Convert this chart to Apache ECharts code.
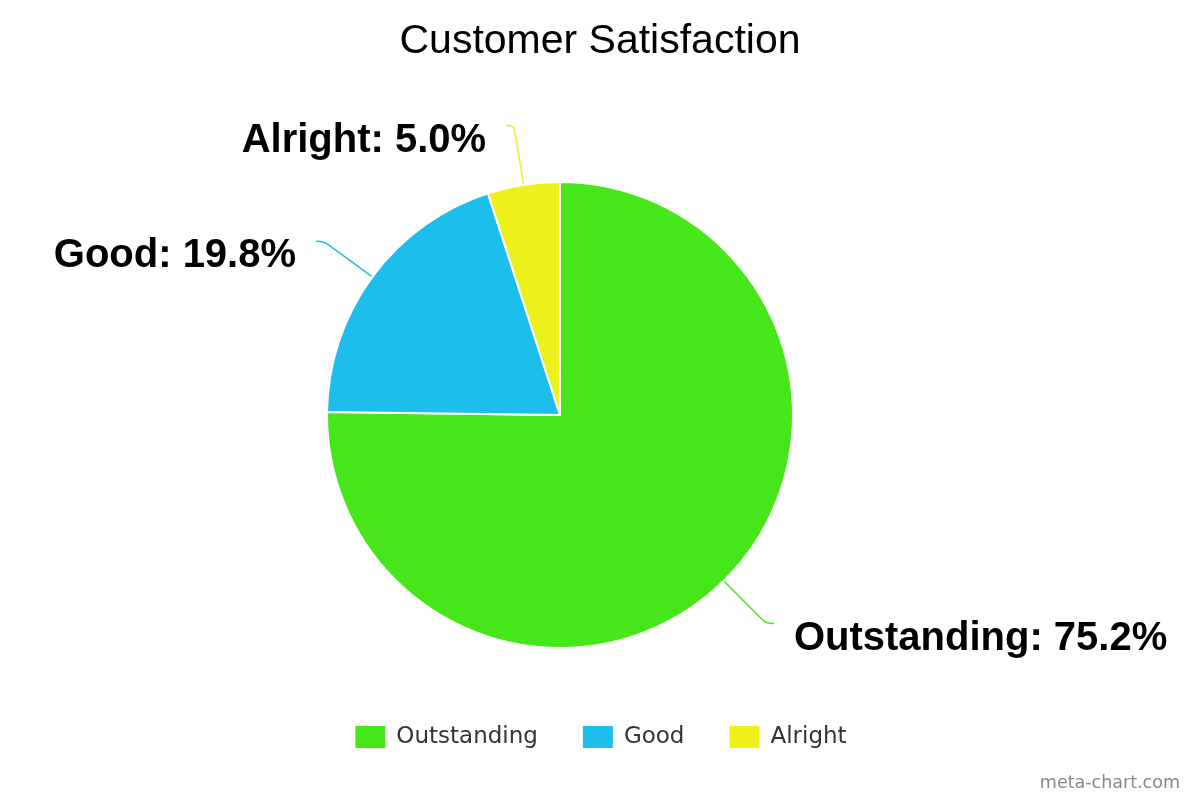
<!DOCTYPE html>
<html>
<head>
<meta charset="UTF-8">
<title>Customer Satisfaction</title>
<script src="https://cdn.jsdelivr.net/npm/echarts@6/dist/echarts.min.js"></script>
<style>
  html, body { margin: 0; padding: 0; background: #fff; }
  #chart { width: 1200px; height: 800px; }
</style>
</head>
<body>
<div id="chart"></div>
<script>
// data
var categories = ['Outstanding', 'Good', 'Alright'];
var values = [75.2, 19.8, 5.0];
var colors = ['#46e61a', '#1ebeec', '#eef01c'];

var pieData = [];
for (var i = 0; i < categories.length; i++) {
  pieData.push({
    name: categories[i],
    value: values[i],
    itemStyle: { color: colors[i] },
    labelLine: { lineStyle: { color: colors[i] } }
  });
}

var myChart = echarts.init(document.getElementById('chart'));

myChart.setOption({
  backgroundColor: '#fff',
  title: {
    text: 'Customer Satisfaction',
    left: 'center',
    top: 16,
    textStyle: { fontFamily: 'Liberation Sans', fontWeight: 'normal', fontSize: 41, color: '#000' }
  },
  legend: {
    data: categories,
    bottom: 45,
    left: 'center',
    itemWidth: 32,
    itemHeight: 24,
    itemGap: 43,
    icon: 'rect',
    textStyle: { fontFamily: 'DejaVu Sans', fontSize: 23, color: '#333', padding: [0, 0, 0, 5] }
  },
  graphic: [{
    type: 'text',
    right: 20,
    bottom: 8,
    style: { text: 'meta-chart.com', fontFamily: 'DejaVu Sans', fontSize: 17.5, fill: '#888' }
  }],
  series: [{
    type: 'pie',
    center: [560, 415],
    radius: 233,
    startAngle: 90,
    clockwise: true,
    animation: false,
    itemStyle: { borderColor: '#fff', borderWidth: 2 },
    label: {
      // text sits a bit below the end of its line in the reference
      formatter: function (p) { return '{t|' + p.name + ': ' + p.value.toFixed(1) + '%}'; },
      rich: {
        t: {
          fontFamily: 'Liberation Sans',
          fontWeight: 'bold',
          fontSize: 40,
          color: '#000',
          padding: [30, 0, 0, 0]
        }
      },
      distanceToLabelLine: 20
    },
    labelLine: { show: true, length: 60, length2: 8, smooth: 0.4, lineStyle: { width: 1.5 } },
    data: pieData
  }]
});
</script>
</body>
</html>
